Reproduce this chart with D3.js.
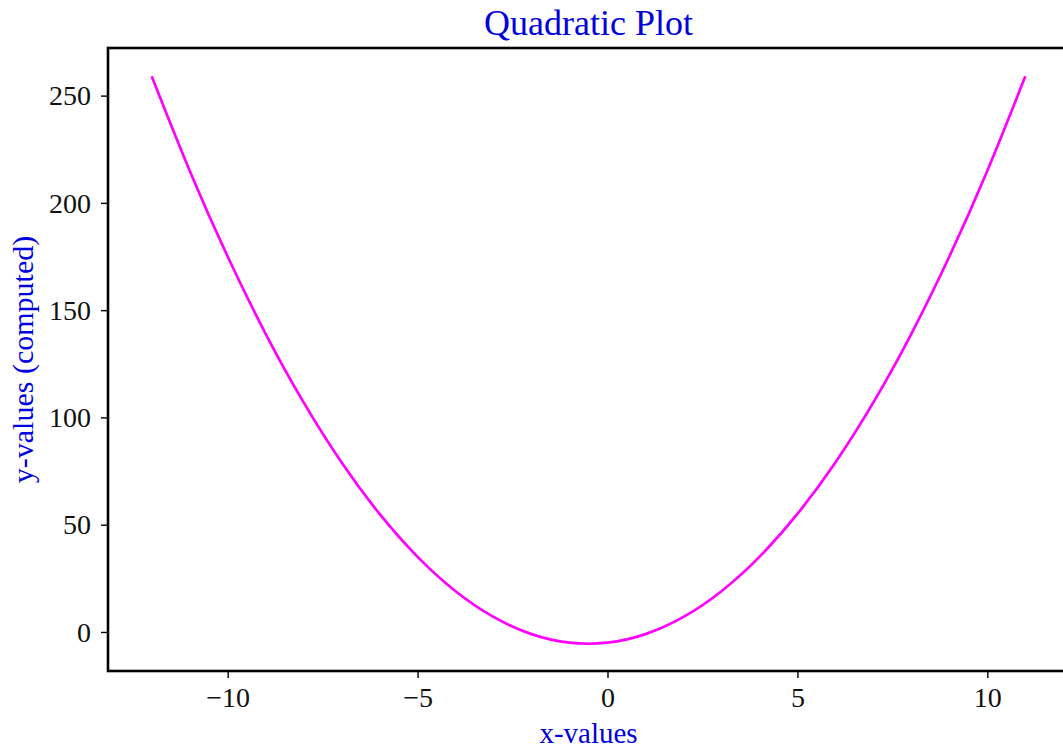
<!DOCTYPE html>
<html>
<head>
<meta charset="utf-8">
<script src="https://cdn.jsdelivr.net/npm/d3@7"></script>
<style>
  body { margin: 0; background: #fff; }
  text { font-family: "Liberation Serif", "DejaVu Serif", serif; }
</style>
</head>
<body>
<script>
const w = 1063;
const h = 748;

// values
const xValues = [-12, -11, -10, -9, -8, -7, -6, -5, -4, -3, -2, -1, 0, 1, 2, 3, 4, 5, 6, 7, 8, 9, 10, 11];
const yValues = [259, 215, 175, 139, 107, 79, 55, 35, 19, 7, -1, -5, -5, -1, 7, 19, 35, 55, 79, 107, 139, 175, 215, 259];
const xTicks = [-10, -5, 0, 5, 10];
const yTicks = [0, 50, 100, 150, 200, 250];

const data = xValues.map((x, i) => ({ x: x, y: yValues[i] }));

const svg = d3.select("body").append("svg").attr("width", w).attr("height", h);

const m = { t: 48, l: 108 };
const gridWidth = 961;
const gridHeight = 623;

// 5% padding like matplotlib
const pad = (ext) => {
  const d = (ext[1] - ext[0]) * 0.05;
  return [ext[0] - d, ext[1] + d];
};

const xScale = d3.scaleLinear()
  .domain(pad(d3.extent(data, (d) => d.x)))
  .range([0, gridWidth]);

const yScale = d3.scaleLinear()
  .domain(pad(d3.extent(data, (d) => d.y)))
  .range([gridHeight, 0]);

const g = svg.append("g").attr("transform", `translate(${m.l}, ${m.t})`);

// curve
const line = d3.line()
  .x((d) => xScale(d.x))
  .y((d) => yScale(d.y))
  .curve(d3.curveNatural);

g.append("path")
  .datum(data)
  .attr("d", line)
  .attr("fill", "none")
  .attr("stroke", "#ff00ff")
  .attr("stroke-width", 2.7);

// x-axis
const xAG = g.append("g")
  .attr("transform", `translate(0, ${gridHeight})`)
  .call(d3.axisBottom(xScale).tickValues(xTicks).tickSize(7));
xAG.select(".domain").remove();
xAG.selectAll(".tick line").attr("stroke", "#000").attr("stroke-width", 1.4);
xAG.selectAll(".tick text")
  .attr("y", 36)
  .attr("dy", 0)
  .attr("fill", "#111")
  .style("font-size", "28px");

// y-axis
const yAG = g.append("g")
  .call(d3.axisLeft(yScale).tickValues(yTicks).tickSize(7));
yAG.select(".domain").remove();
yAG.selectAll(".tick line").attr("stroke", "#000").attr("stroke-width", 1.4);
yAG.selectAll(".tick text")
  .attr("x", -17)
  .attr("dy", "0.33em")
  .attr("fill", "#111")
  .style("font-size", "28px");

// frame
g.append("rect")
  .attr("x", 0)
  .attr("y", 0)
  .attr("width", gridWidth)
  .attr("height", gridHeight)
  .attr("fill", "none")
  .attr("stroke", "#000")
  .attr("stroke-width", 2.6);

// title
svg.append("text")
  .attr("x", m.l + gridWidth / 2)
  .attr("y", 35)
  .attr("text-anchor", "middle")
  .attr("fill", "#0000dd")
  .style("font-size", "36px")
  .text("Quadratic Plot");

// axis labels
svg.append("text")
  .attr("x", m.l + gridWidth / 2)
  .attr("y", 743)
  .attr("text-anchor", "middle")
  .attr("fill", "#0000dd")
  .style("font-size", "29px")
  .text("x-values");

svg.append("text")
  .attr("transform", "rotate(-90)")
  .attr("x", -(m.t + gridHeight / 2))
  .attr("y", 33)
  .attr("text-anchor", "middle")
  .attr("fill", "#0000dd")
  .style("font-size", "30px")
  .text("y-values (computed)");
</script>
</body>
</html>
